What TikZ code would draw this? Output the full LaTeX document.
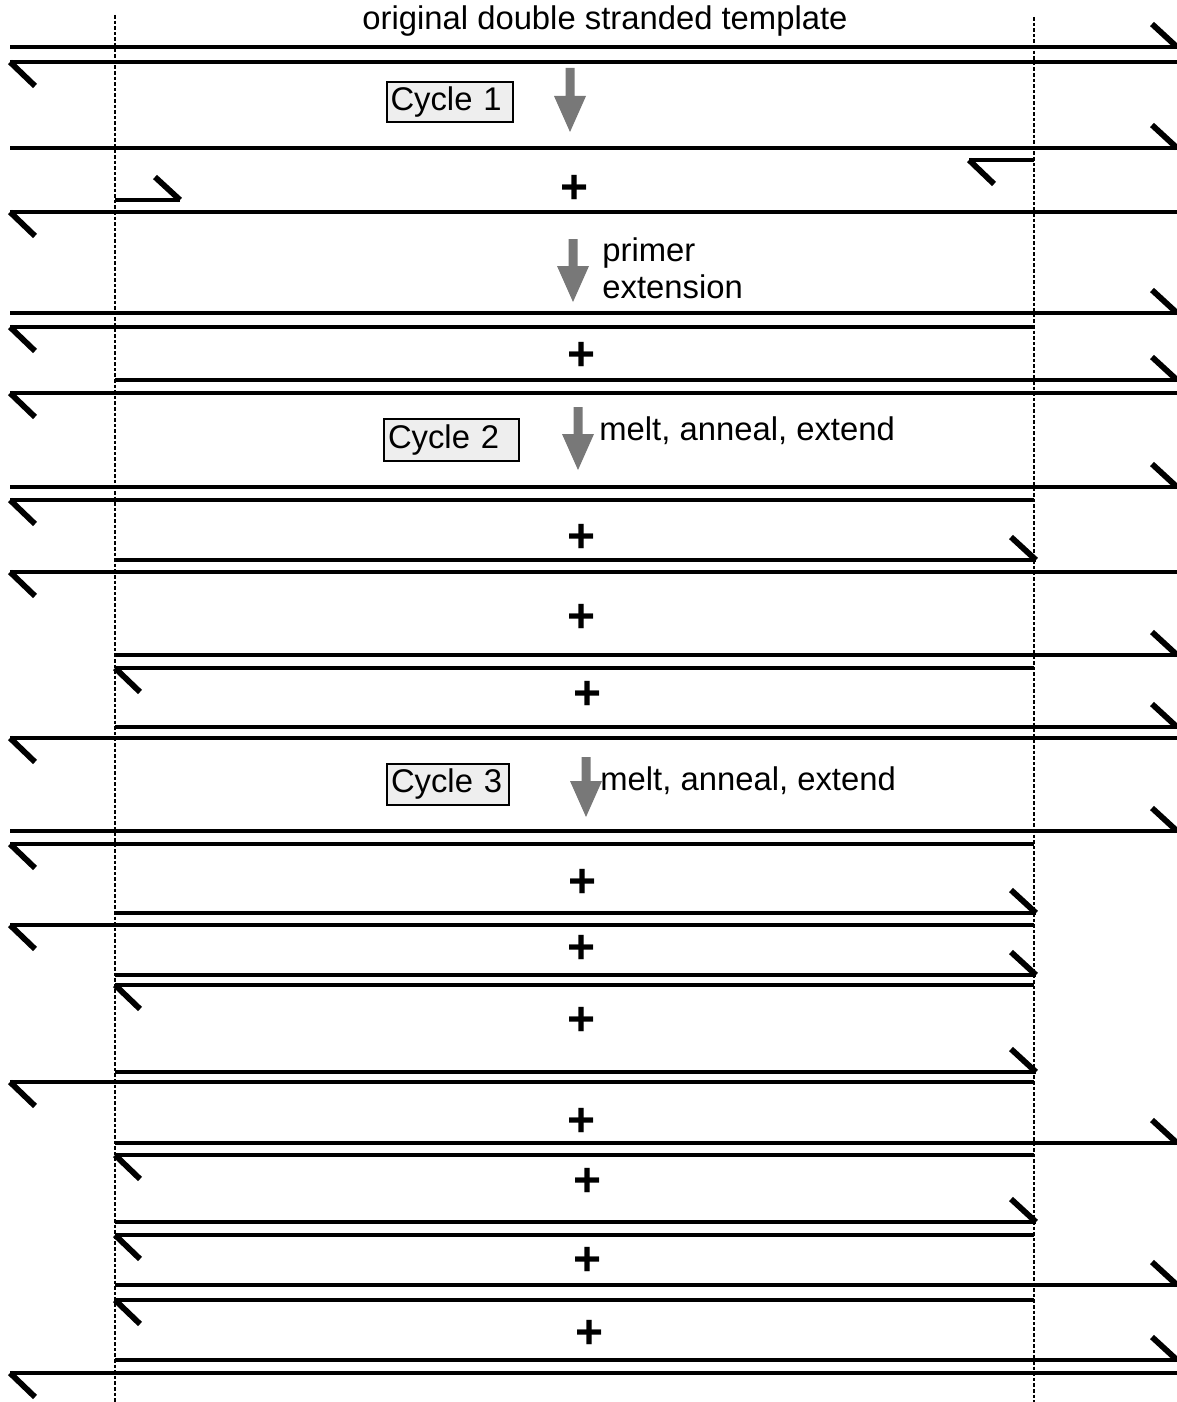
\documentclass[tikz,border=0pt]{standalone}
\usepackage{fontspec}
\setmainfont{Liberation Sans}
\definecolor{arrowgray}{HTML}{787878}
\definecolor{boxgray}{HTML}{EEEEEE}
\tikzset{
  strand/.style={line width=2.4pt},
  hookline/.style={line width=2.9pt},
  guide/.style={line width=0.9pt, dash pattern=on 1.8pt off 1pt},
  cyclebox/.style={draw, line width=1pt, fill=boxgray, anchor=north west,
    inner xsep=2pt, inner ysep=0pt, align=left,
    font=\fontsize{16.4pt}{18.5pt}\selectfont},
  lab/.style={font=\fontsize{16.4pt}{18.5pt}\selectfont, inner sep=0pt},
  plussign/.style={font=\fontsize{24pt}{24pt}\selectfont\bfseries, inner sep=0pt},
}
% right-pointing strand: name, y, x1, x2 (hook at right end, up-left)
\newcommand{\strandR}[4]{%
  \coordinate (#1-a) at (#3,#2);
  \coordinate (#1-b) at (#4,#2);
  \draw[strand] (#1-a) -- (#1-b);
  \draw[hookline] (#1-b) -- ++(-25,-23);}
% left-pointing strand: name, y, x1, x2 (hook at left end, down-right)
\newcommand{\strandL}[4]{%
  \coordinate (#1-a) at (#3,#2);
  \coordinate (#1-b) at (#4,#2);
  \draw[strand] (#1-a) -- (#1-b);
  \draw[hookline] (#1-a) -- ++(25,24);}
% grey step arrow: name, x, ytop, ytip
\newcommand{\steparr}[4]{%
  \coordinate (#1-top) at (#2,#3);
  \coordinate (#1-tip) at (#2,#4);
  \fill[arrowgray] (#2-4.5,#3) -- (#2+4.5,#3) -- (#2+4.5,#4-36) -- (#2+16,#4-36)
     -- (#1-tip) -- (#2-16,#4-36) -- (#2-4.5,#4-36) -- cycle;}
\begin{document}
\begin{tikzpicture}[x=0.5pt,y=-0.5pt]
\useasboundingbox (0,0) rectangle (1177,1402);

% dashed guide lines
\coordinate (gl-top) at (115,15);
\coordinate (gl-bot) at (115,1402);
\coordinate (gr-top) at (1034,17);
\coordinate (gr-bot) at (1034,1402);
\draw[guide] (gl-top) -- (gl-bot);
\draw[guide] (gr-top) -- (gr-bot);

% title
\node[lab, anchor=base] (title) at (605,30) {original double stranded template};

% original template
\strandR{s1}{47}{10}{1177}
\strandL{s2}{62}{10}{1177}

% cycle 1
\node[cyclebox, text width=59pt, minimum height=20pt] (c1) at (385.5,81) {Cycle 1};
\steparr{a1}{570}{68}{132}

\strandR{s3}{148}{10}{1177}
\strandL{s4}{160}{969}{1034}
\node[plussign] (p1) at (575,189) {+};
\strandR{s5}{200}{115}{180}
\strandL{s6}{212}{10}{1177}

\steparr{a2}{573}{239}{302}
\node[lab, anchor=base west] (pe1) at (602,261) {primer};
\node[lab, anchor=base west] (pe2) at (602,298) {extension};

\strandR{s7}{313}{10}{1177}
\strandL{s8}{327}{10}{1034}
\node[plussign] (p2) at (582,356) {+};
\strandR{s9}{380}{115}{1177}
\strandL{s10}{393}{10}{1177}

% cycle 2
\node[cyclebox, text width=63.5pt, minimum height=21pt] (c2) at (383,418) {Cycle 2};
\steparr{a3}{578}{407}{470}
\node[lab, anchor=base west] (m2) at (599,440) {melt, anneal, extend};

\strandR{s11}{487}{10}{1177}
\strandL{s12}{500}{10}{1034}
\node[plussign] (p3) at (582,538) {+};
\strandR{s13}{560}{115}{1036}
\strandL{s14}{572}{10}{1177}
\node[plussign] (p4) at (582,618) {+};
\strandR{s15}{655}{115}{1177}
\strandL{s16}{668}{115}{1034}
\node[plussign] (p5) at (588,695) {+};
\strandR{s17}{727}{115}{1177}
\strandL{s18}{738}{10}{1177}

% cycle 3
\node[cyclebox, text width=57pt, minimum height=20.5pt] (c3) at (386,763) {Cycle 3};
\steparr{a4}{586}{757}{817}
\node[lab, anchor=base west] (m3) at (600,790) {melt, anneal, extend};

\strandR{s19}{831}{10}{1177}
\strandL{s20}{844}{10}{1034}
\node[plussign] (p6) at (583,883) {+};
\strandR{s21}{913}{115}{1036}
\strandL{s22}{925}{10}{1034}
\node[plussign] (p7) at (582,949) {+};
\strandR{s23}{975}{115}{1036}
\strandL{s24}{985}{115}{1034}
\node[plussign] (p8) at (582,1021) {+};
\strandR{s25}{1072}{115}{1036}
\strandL{s26}{1082}{10}{1034}
\node[plussign] (p9) at (582,1122) {+};
\strandR{s27}{1143}{115}{1177}
\strandL{s28}{1155}{115}{1034}
\node[plussign] (p10) at (588,1182) {+};
\strandR{s29}{1222}{115}{1036}
\strandL{s30}{1235}{115}{1034}
\node[plussign] (p11) at (588,1261) {+};
\strandR{s31}{1285}{115}{1177}
\strandL{s32}{1300}{115}{1034}
\node[plussign] (p12) at (590,1334) {+};
\strandR{s33}{1360}{115}{1177}
\strandL{s34}{1373}{10}{1177}
\end{tikzpicture}
\end{document}
